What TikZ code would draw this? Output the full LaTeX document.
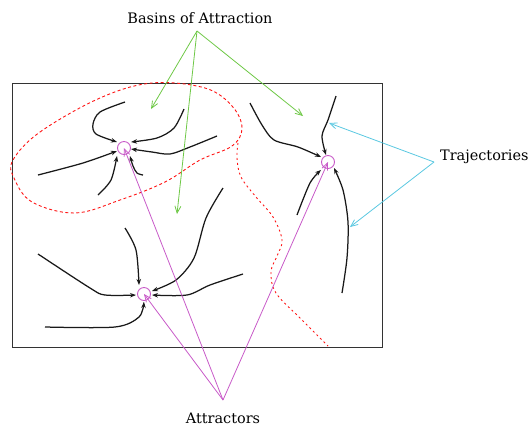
\documentclass[tikz,border=0pt]{standalone}
\usepackage{fontspec}
\setmainfont{DejaVu Serif}
\usetikzlibrary{arrows.meta}
\definecolor{bgreen}{RGB}{110,200,70}
\definecolor{tcyan}{RGB}{90,200,225}
\definecolor{amag}{RGB}{200,90,200}
\definecolor{bred}{RGB}{255,20,20}
\tikzset{
  lbl/.style={font=\fontsize{14.5}{17}\selectfont, inner sep=0pt},
  frame/.style={draw=black!80, line width=1bp},
  attractor/.style={circle, draw=amag, line width=0.9bp, minimum size=13bp, inner sep=0pt},
  traj/.style={draw=black!90, line width=1.25bp, -{Stealth[length=6bp,width=4.5bp]}},
  gline/.style={draw=bgreen, line width=0.8bp, -{Straight Barb[length=7bp,width=6bp]}},
  cline/.style={draw=tcyan, line width=0.8bp, -{Straight Barb[length=7bp,width=6bp]}},
  mline/.style={draw=amag, line width=0.8bp, -{Straight Barb[length=7bp,width=6bp]}},
  basin/.style={draw=bred, line width=0.9bp, dash pattern=on 3bp off 2.5bp},
  basindot/.style={draw=bred, line width=0.9bp, dash pattern=on 2bp off 3bp}
}
\begin{document}
\begin{tikzpicture}[x=1bp,y=-1bp]
\useasboundingbox (0,0) rectangle (531,432);
% frame
\draw[frame] (12,83) rectangle (382,347);
% basin boundaries
\draw[basin] plot[smooth cycle, tension=0.6] coordinates {(13,160) (40,132) (100,98) (152,83) (205,88) (232,106) (242,128) (232,146) (200,160) (165,182) (120,200) (75,213) (32,202) (14,178)};
\draw[basindot] plot[smooth, tension=0.6] coordinates {(238,143) (237,158) (241,177) (256,197) (273,217) (282,240) (277,256) (271,272) (276,293) (300,318) (328,346)};
% attractors
\node[attractor] (a1) at (124,148) {};
\node[attractor] (a2) at (328,162) {};
\node[attractor] (a3) at (144,294) {};
% trajectories around a1
\draw[traj] plot[smooth] coordinates {(125,102) (100,112) (93,124) (96,134) (117,142)};
\draw[traj] plot[smooth] coordinates {(184,109) (174,128) (157,138) (131,142)};
\draw[traj] plot[smooth] coordinates {(217,136) (190,147) (170,154) (152,152) (131,149)};
\draw[traj] plot[smooth] coordinates {(38,175) (83,163) (117,151)};
\draw[traj] plot[smooth] coordinates {(98,195) (111,180) (117,156)};
\draw[traj] plot[smooth] coordinates {(143,175) (137,173) (133,166) (130,156)};
% trajectories around a2
\draw[traj] plot[smooth] coordinates {(250,103) (262,125) (274,140) (298,147) (321,157)};
\draw[traj] plot[smooth] coordinates {(336,96) (328,120) (322,136) (326,155)};
\draw[traj] plot[smooth] coordinates {(297,215) (310,183) (321,170)};
\draw[traj] plot[smooth] coordinates {(342,293) (347,258) (348,222) (343,190) (334,168)};
% trajectories around a3
\draw[traj] plot[smooth] coordinates {(125,228) (136,250) (139,285)};
\draw[traj] plot[smooth] coordinates {(38,254) (90,288) (105,295) (136,295)};
\draw[traj] plot[smooth] coordinates {(45,327) (115,327) (139,317) (144,302)};
\draw[traj] plot[smooth] coordinates {(243,274) (210,285) (187,295) (152,295)};
\draw[traj] plot[smooth] coordinates {(223,188) (206,218) (194,258) (176,280) (152,291)};
% labels
\node[lbl] (basins) at (200,18) {Basins of Attraction};
\node[lbl, anchor=west] (trajlbl) at (440,157) {Trajectories};
\node[lbl] (attrlbl) at (223,418) {Attractors};
% pointer apexes and targets
\coordinate (gapex) at (197,31);
\coordinate (g1) at (151,109);
\coordinate (g2) at (177,214);
\coordinate (g3) at (303,116);
\coordinate (capex) at (434,162);
\coordinate (c1) at (329,123);
\coordinate (c2) at (350,227);
\coordinate (mapex) at (223,400);
\draw[gline] (gapex) -- (g1);
\draw[gline] (gapex) -- (g2);
\draw[gline] (gapex) -- (g3);
\draw[cline] (capex) -- (c1);
\draw[cline] (capex) -- (c2);
\draw[mline] (mapex) -- (a1.center);
\draw[mline] (mapex) -- (a2.center);
\draw[mline] (mapex) -- (a3.center);
\end{tikzpicture}
\end{document}
